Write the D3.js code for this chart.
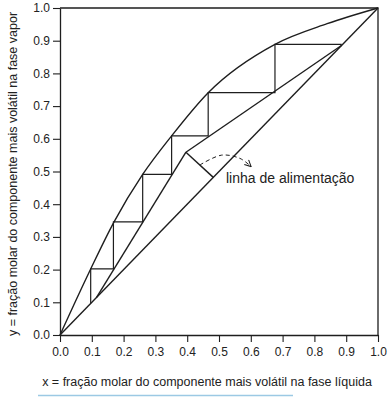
<!DOCTYPE html>
<html>
<head>
<meta charset="utf-8">
<script src="https://cdn.jsdelivr.net/npm/d3@7"></script>
<style>
  html, body { margin: 0; padding: 0; background: #fff; }
  svg { display: block; }
  text { font-family: "Liberation Sans", Arial, sans-serif; fill: #222; }
</style>
</head>
<body>
<svg id="chart" width="388" height="397"></svg>
<script>
// ---- data ----
const tickValues = [0, 0.1, 0.2, 0.3, 0.4, 0.5, 0.6, 0.7, 0.8, 0.9, 1.0];
const tickLabels = ["0.0", "0.1", "0.2", "0.3", "0.4", "0.5", "0.6", "0.7", "0.8", "0.9", "1.0"];

// equilibrium curve
const eqX = [0, 0.0965, 0.17, 0.26, 0.351, 0.466, 0.676, 0.84, 1.0];
const eqY = [0, 0.202, 0.346, 0.491, 0.609, 0.741, 0.889, 0.952, 1.0];

// diagonal y = x
const diagX = [0, 1];
const diagY = [0, 1];

// rectifying operating line
const rectX = [0.396, 0.886];
const rectY = [0.559, 0.886];

// stripping operating line
const stripX = [0.115, 0.396];
const stripY = [0.115, 0.559];

// feed line
const feedX = [0.396, 0.482];
const feedY = [0.559, 0.482];

// McCabe-Thiele steps
const stepX = [0.0965, 0.0965, 0.168, 0.168, 0.26, 0.26, 0.351, 0.351, 0.466, 0.466, 0.676, 0.676, 0.886];
const stepY = [0.0965, 0.202, 0.202, 0.346, 0.346, 0.491, 0.491, 0.609, 0.609, 0.741, 0.741, 0.889, 0.889];

// annotation arrow (dashed)
const arrowX = [0.44, 0.508, 0.566, 0.601];
const arrowY = [0.52, 0.55, 0.54, 0.515];
const feedLabel = "linha de alimentação";
const feedLabelPos = [0.522, 0.465];

const xTitle = "x = fração molar do componente mais volátil na fase líquida";
const yTitle = "y = fração molar do componente mais volátil na fase vapor";

// ---- drawing ----
const svg = d3.select("#chart");
const L = 60, R = 378, T = 8, B = 335;
const x = d3.scaleLinear().domain([0, 1]).range([L, R]);
const y = d3.scaleLinear().domain([0, 1]).range([B, T]);
const ink = "#1e1e1e";

const zipPts = (xs, ys) => xs.map((v, i) => [v, ys[i]]);
const line = d3.line().x(d => x(d[0])).y(d => y(d[1]));

// frame (top/right)
svg.append("path")
  .attr("d", line([[0, 1], [1, 1], [1, 0]]))
  .attr("fill", "none").attr("stroke", ink).attr("stroke-width", 1.3);

// axes
const fmt = (d) => tickLabels[tickValues.indexOf(d)];
const xAxis = svg.append("g").attr("transform", `translate(0,${B})`)
  .call(d3.axisBottom(x).tickValues(tickValues).tickFormat(fmt).tickSize(7).tickSizeOuter(0).tickPadding(5));
const yAxis = svg.append("g").attr("transform", `translate(${L},0)`)
  .call(d3.axisLeft(y).tickValues(tickValues).tickFormat(fmt).tickSize(7).tickSizeOuter(0).tickPadding(3));
[xAxis, yAxis].forEach(g => {
  g.select(".domain").attr("stroke", ink).attr("stroke-width", 1.3);
  g.selectAll(".tick line").attr("stroke", ink).attr("stroke-width", 1.1);
  g.selectAll(".tick text").attr("font-size", 12).attr("fill", "#222")
    .attr("font-family", "'Liberation Sans', Arial, sans-serif");
});

// curves and lines
const stroke = (sel, w) => sel.attr("fill", "none").attr("stroke", ink).attr("stroke-width", w);

svg.append("path").attr("d", d3.line().x(d => x(d[0])).y(d => y(d[1])).curve(d3.curveMonotoneX)(zipPts(eqX, eqY)))
  .call(stroke, 1.4);
svg.append("path").attr("d", line(zipPts(diagX, diagY))).call(stroke, 1.4);
svg.append("path").attr("d", line(zipPts(rectX, rectY))).call(stroke, 1.4);
svg.append("path").attr("d", line(zipPts(stripX, stripY))).call(stroke, 1.4);
svg.append("path").attr("d", line(zipPts(feedX, feedY))).call(stroke, 1.4);
svg.append("path").attr("d", line(zipPts(stepX, stepY))).call(stroke, 1.2);

// dashed annotation arrow
const defs = svg.append("defs");
defs.append("marker").attr("id", "arr").attr("viewBox", "0 0 10 10")
  .attr("refX", 9).attr("refY", 5).attr("markerWidth", 8).attr("markerHeight", 8)
  .attr("markerUnits", "userSpaceOnUse").attr("orient", "auto")
  .append("path").attr("d", "M1,1 L9,5 L1,9").attr("fill", "none").attr("stroke", ink).attr("stroke-width", 1.3);
svg.append("path")
  .attr("d", d3.line().x(d => x(d[0])).y(d => y(d[1])).curve(d3.curveCatmullRom)(zipPts(arrowX, arrowY)))
  .attr("fill", "none").attr("stroke", ink).attr("stroke-width", 1).attr("stroke-dasharray", "4,3")
  .attr("marker-end", "url(#arr)");

svg.append("text").attr("x", x(feedLabelPos[0])).attr("y", y(feedLabelPos[1]))
  .attr("font-size", 14).text(feedLabel);

// axis titles
svg.append("text").attr("x", 207).attr("y", 386)
  .attr("text-anchor", "middle").attr("font-size", 12.5).text(xTitle);
svg.append("text").attr("transform", `translate(17,${174}) rotate(-90)`)
  .attr("text-anchor", "middle").attr("font-size", 12.5).text(yTitle);

// bottom accent line
svg.append("line").attr("x1", 38).attr("x2", 293).attr("y1", 395.5).attr("y2", 395.5)
  .attr("stroke", "#9cc9e4").attr("stroke-width", 1.5);
</script>
</body>
</html>
